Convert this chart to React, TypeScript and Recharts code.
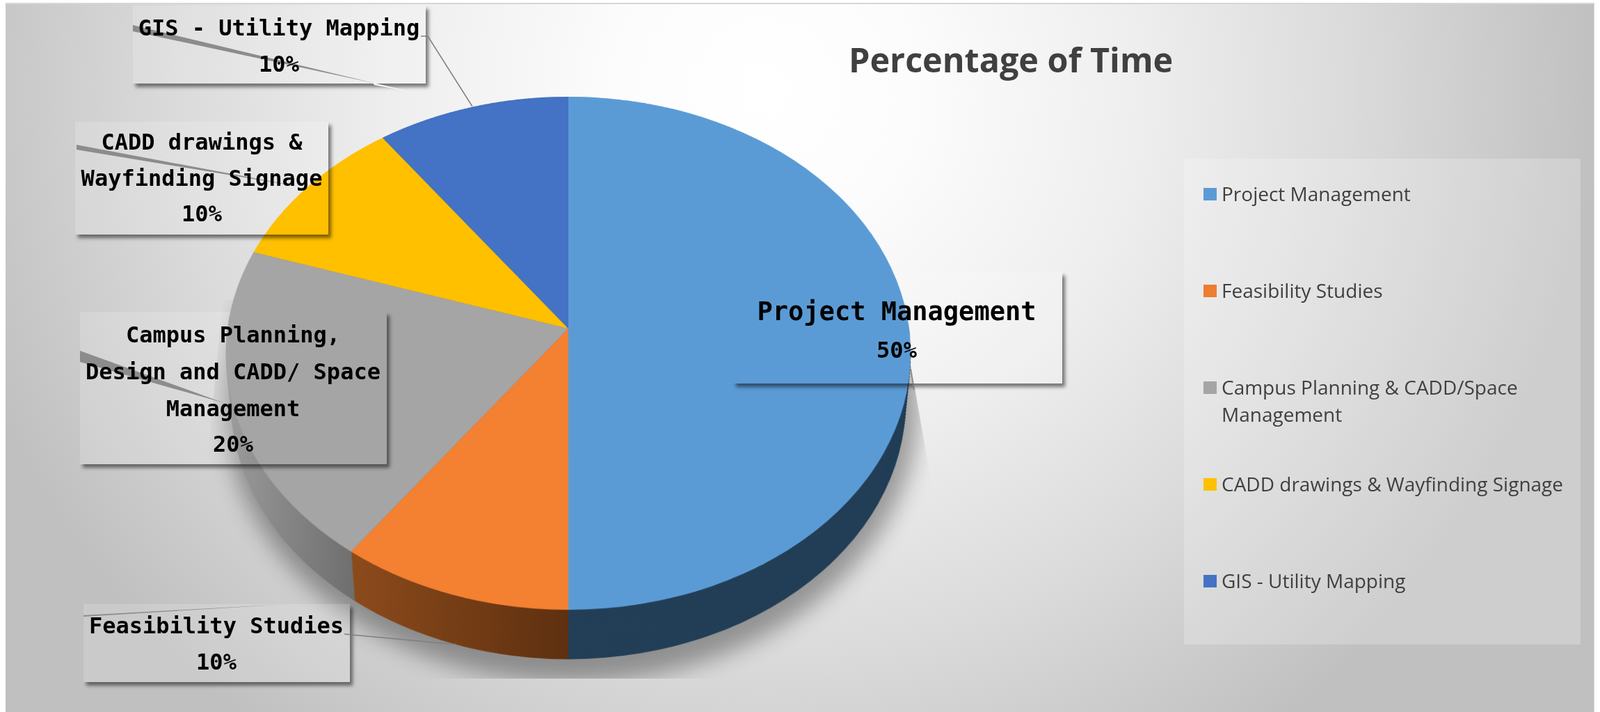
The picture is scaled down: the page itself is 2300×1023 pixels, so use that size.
import { PieChart, Pie, Cell } from 'recharts';

const categories = [
  'Project Management',
  'Feasibility Studies',
  'Campus Planning & CADD/Space Management',
  'CADD drawings & Wayfinding Signage',
  'GIS - Utility Mapping',
];
const percentages = [50, 10, 20, 10, 10];
const topColors = ['#5b9bd5', '#f48031', '#a5a5a5', '#ffc000', '#4472c4'];
const legendColors = ['#5b9bd5', '#ed7d31', '#a5a5a5', '#ffc000', '#4472c4'];
const wallFills = ['#233f57', 'url(#wallOrange)', 'url(#wallGrey)', '#8a6c00', '#2a4578'];

const pieData = categories.map((name, i) => ({ name, value: percentages[i] }));

// data label boxes
const dataLabels = [
  { lines: ['Project Management'], pct: '50%', box: [1054, 391, 1527, 551], tops: [447, 502], size: 37, cx: 1289 },
  { lines: ['Feasibility Studies'], pct: '10%', box: [120, 868, 503, 980], tops: [898, 950], size: 32, cx: 311 },
  { lines: ['Campus Planning,', 'Design and CADD/ Space', 'Management'], pct: '20%', box: [115, 448, 556, 667], tops: [480, 533, 586, 637], size: 32, cx: 335 },
  { lines: ['CADD drawings &', 'Wayfinding Signage'], pct: '10%', box: [108, 175, 472, 337], tops: [203, 255, 306], size: 32, cx: 290 },
  { lines: ['GIS - Utility Mapping'], pct: '10%', box: [191, 8, 612, 120], tops: [39, 91], size: 32, cx: 401 },
];

// the grey slivers left in the label boxes
const wedges = [
  '191,36 191,45 540,120',
  '110,208 110,215 430,268',
  '115,504 115,520 322,579',
  '120,884 120,886 414,868',
];
const leaders = ['605,52 615,52 679,153', '495,911 656,926', '1309,530 1314,560'];

const legendRows = [
  { lines: ['Project Management'], y: 278 },
  { lines: ['Feasibility Studies'], y: 417 },
  { lines: ['Campus Planning & CADD/Space', 'Management'], y: 556 },
  { lines: ['CADD drawings & Wayfinding Signage'], y: 695 },
  { lines: ['GIS - Utility Mapping'], y: 834 },
];

const PIE_X = 817;
const PIE_Y = 472;
const RADIUS = 490;
const SIZE = 1200;
const DEPTH = 114;

// wall = the same pie repeated, sliding down the tilted plane and shrinking a little
const depthSteps: number[] = [];
for (let h = DEPTH; h > 0; h -= 2) depthSteps.push(h);

export default function App() {
  return (
    <div
      style={{
        position: 'absolute',
        left: 0,
        top: 0,
        width: 2300,
        height: 1023,
        overflow: 'hidden',
        background: '#fff',
      }}
    >
      <svg width={0} height={0} style={{ position: 'absolute' }}>
        <defs>
          <linearGradient id="wallOrange" gradientUnits="userSpaceOnUse" x1="300" y1="0" x2="600" y2="0">
            <stop offset="0" stopColor="#8f4c1c" />
            <stop offset="1" stopColor="#5e3010" />
          </linearGradient>
          <linearGradient id="wallGrey" gradientUnits="userSpaceOnUse" x1="110" y1="0" x2="350" y2="0">
            <stop offset="0" stopColor="#a0a0a0" />
            <stop offset="1" stopColor="#676767" />
          </linearGradient>
        </defs>
      </svg>

      {/* plot background */}
      <div
        style={{
          position: 'absolute',
          left: 8,
          top: 4,
          width: 2284,
          height: 1019,
          boxSizing: 'border-box',
          background:
            'radial-gradient(ellipse 1200px 1150px at 1092px 126px, #ffffff 0%, #fcfcfc 18%, #eeeeee 45%, #dbdbdb 70%, #c0c0c0 100%)',
          borderTop: '2px solid #d6d6d6',
          borderRight: '1px solid #d8d8d8',
        }}
      />

      {/* soft shadow under the pie, cut off by its picture frame */}
      <div
        style={{
          position: 'absolute',
          inset: 0,
          clipPath: 'polygon(320px 430px, 1305px 500px, 1345px 730px, 1345px 975px, 293px 975px, 293px 713px)',
        }}
      >
        <div
          style={{
            position: 'absolute',
            left: 322,
            top: 175,
            width: 1000,
            height: 805,
            borderRadius: '50%',
            background: 'rgba(0,0,0,0.34)',
            filter: 'blur(16px)',
          }}
        />
      </div>

      {/* box fills sit behind the pie */}
      {dataLabels.map((l) => (
        <div
          key={`fill-${l.cx}`}
          style={{
            position: 'absolute',
            left: l.box[0],
            top: l.box[1],
            width: l.box[2] - l.box[0],
            height: l.box[3] - l.box[1],
            background: 'rgba(255,255,255,0.17)',
          }}
        />
      ))}

      <div
        style={{
          position: 'absolute',
          left: PIE_X - SIZE / 2,
          top: PIE_Y - SIZE / 2,
          width: SIZE,
          height: SIZE,
          transformOrigin: '50% 50%',
          transform: 'perspective(3389px) rotateX(41.8deg)',
        }}
      >
        <PieChart width={SIZE} height={SIZE} margin={{ top: 0, right: 0, bottom: 0, left: 0 }}>
          {depthSteps.map((h) => (
            <Pie
              key={h}
              data={pieData}
              dataKey="value"
              nameKey="name"
              cx={SIZE / 2}
              cy={SIZE / 2 + 0.81 * h}
              outerRadius={RADIUS - 0.14 * h}
              startAngle={90}
              endAngle={-270}
              stroke="none"
              isAnimationActive={false}
            >
              {pieData.map((d, i) => (
                <Cell key={d.name} fill={wallFills[i]} />
              ))}
            </Pie>
          ))}
          <Pie
            data={pieData}
            dataKey="value"
            nameKey="name"
            cx={SIZE / 2}
            cy={SIZE / 2}
            outerRadius={RADIUS}
            startAngle={90}
            endAngle={-270}
            stroke="none"
            isAnimationActive={false}
          >
            {pieData.map((d, i) => (
              <Cell key={d.name} fill={topColors[i]} />
            ))}
          </Pie>
        </PieChart>
      </div>

      {/* box shadows are drawn over the pie: transparent box, outside shadow only */}
      {dataLabels.map((l) => (
        <div
          key={`shadow-${l.cx}`}
          style={{
            position: 'absolute',
            left: l.box[0],
            top: l.box[1],
            width: l.box[2] - l.box[0],
            height: l.box[3] - l.box[1],
            boxShadow: '4px 5px 5px rgba(0,0,0,0.5)',
            clipPath: 'inset(0 -12px -12px 0)',
          }}
        />
      ))}

      <svg width={2300} height={1023} style={{ position: 'absolute', left: 0, top: 0 }}>
        {wedges.map((p) => (
          <polygon key={p} points={p} fill="#8c8c8c" />
        ))}
        <polygon points="536,119 592,132 538,122" fill="#ffffff" />
        {leaders.map((p) => (
          <polyline key={p} points={p} fill="none" stroke="#7f7f7f" strokeWidth={1.5} />
        ))}
      </svg>

      {dataLabels.map((l) => (
        <div key={`text-${l.cx}`}>
          {[...l.lines, l.pct].map((t, i) => (
            <div
              key={t}
              style={{
                position: 'absolute',
                left: l.cx - 300,
                width: 600,
                top: l.tops[i] - 29,
                height: 60,
                lineHeight: '60px',
                textAlign: 'center',
                whiteSpace: 'nowrap',
                fontFamily: '"DejaVu Sans Mono", monospace',
                fontWeight: 700,
                fontSize: t === l.pct ? 32 : l.size,
                color: '#000',
              }}
            >
              {t}
            </div>
          ))}
        </div>
      ))}

      <div
        style={{
          position: 'absolute',
          left: 1220,
          top: 50,
          fontFamily: '"Open Sans", sans-serif',
          fontWeight: 700,
          fontSize: 48.5,
          lineHeight: '70px',
          color: '#404040',
          whiteSpace: 'nowrap',
        }}
      >
        Percentage of Time
      </div>

      {/* legend */}
      <div
        style={{
          position: 'absolute',
          left: 1702,
          top: 228,
          width: 570,
          height: 698,
          background: 'rgba(255,255,255,0.22)',
        }}
      />
      {legendRows.map((row, i) => (
        <div key={row.lines[0]}>
          <div
            style={{
              position: 'absolute',
              left: 1730,
              top: row.y - 8,
              width: 19,
              height: 18,
              background: legendColors[i],
            }}
          />
          {row.lines.map((t, j) => (
            <div
              key={t}
              style={{
                position: 'absolute',
                left: 1756,
                top: row.y - 20 + j * 39,
                height: 40,
                lineHeight: '40px',
                fontFamily: '"Open Sans", sans-serif',
                fontSize: 28,
                color: '#404040',
                whiteSpace: 'nowrap',
              }}
            >
              {t}
            </div>
          ))}
        </div>
      ))}
    </div>
  );
}
